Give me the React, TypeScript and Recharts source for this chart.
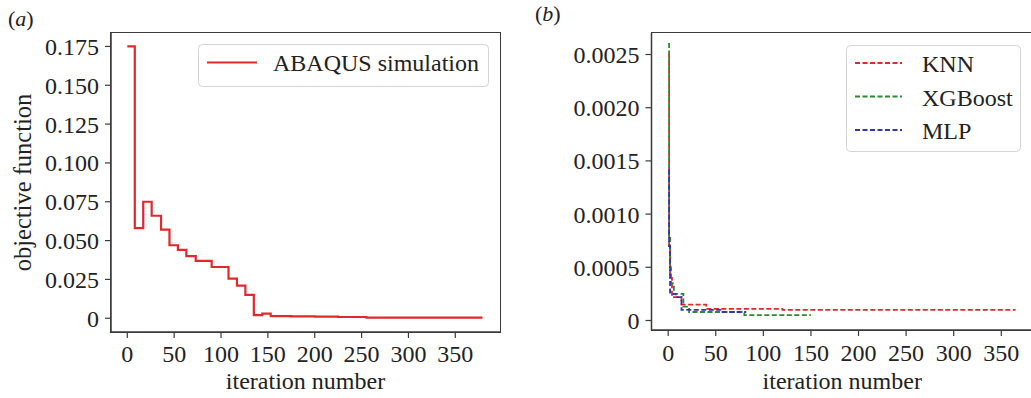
import React from 'react'
import { LineChart, Line, XAxis, YAxis } from 'recharts'

const FONT = '"Liberation Serif", "Times New Roman", serif'

// --- (a) ABAQUS simulation ---
const abaqusIter = [0, 8, 17, 26, 36, 45, 54, 63, 73, 90, 108, 117, 126, 135, 144, 153, 175, 200, 225, 255, 379]
const abaqusObj = [0.175, 0.058, 0.075, 0.066, 0.057, 0.047, 0.044, 0.04, 0.037, 0.033, 0.0255, 0.021, 0.015, 0.002, 0.003, 0.0013, 0.0012, 0.001, 0.0008, 0.0004, 0.0004]
const ticksA_X = [0, 50, 100, 150, 200, 250, 300, 350]
const ticksA_Y = [0, 0.025, 0.05, 0.075, 0.1, 0.125, 0.15, 0.175]

// --- (b) surrogate models ---
const knnIter = [0, 1, 2, 4, 14, 40, 120, 365]
const knnObj = [0.0025, 0.0007, 0.0004, 0.00022, 0.00015, 0.00011, 0.0001, 0.0001]
const xgbIter = [0, 1, 2, 3, 6, 16, 22, 80, 150]
const xgbObj = [0.0026, 0.0008, 0.0005, 0.00035, 0.00025, 0.00013, 0.00008, 0.00005, 0.00005]
const mlpIter = [0, 1, 2, 8, 14, 55, 82]
const mlpObj = [0.00141, 0.0007, 0.00025, 0.00022, 0.0001, 0.00008, 0.00008]
const ticksB_X = [0, 50, 100, 150, 200, 250, 300, 350]
const ticksB_Y = [0, 0.0005, 0.001, 0.0015, 0.002, 0.0025]

const RED = '#e3282b'
const GREEN = '#2b8a2f'
const BLUE = '#3434ad'
const SPINE = '#3a3a3a'

const domA_X: [number, number] = [-17.4, 397.7]
const domA_Y: [number, number] = [-0.00886, 0.18366]
const domB_X: [number, number] = [-17.5, 383.3]
const domB_Y: [number, number] = [-0.0000893, 0.002702]

// layout of the two panels (page px)
const H = 398
const A = { left: 0, width: 510, yAxisW: 111, top: 33, xAxisH: 66, right: 10 }
const B = { left: 520, width: 513, yAxisW: 131.5, top: 33, xAxisH: 68, right: 0 }

const zip = (xs: number[], ys: number[]) => xs.map((x, i) => ({ x, y: ys[i] }))

const tickStyle = { fill: '#222', fontSize: 24, fontFamily: FONT }
const spine = { stroke: SPINE, strokeWidth: 1.5 }
const tickLine = { stroke: SPINE, strokeWidth: 1.2 }

function PanelA() {
  const data = zip(abaqusIter, abaqusObj)
  return (
    <LineChart width={A.width} height={H} margin={{ top: A.top, right: A.right, left: 0, bottom: 0 }}>
      <XAxis type="number" dataKey="x" domain={domA_X} ticks={ticksA_X} interval={0}
        tick={tickStyle} tickLine={tickLine} axisLine={spine} tickSize={6} tickMargin={7} height={A.xAxisH}
        label={{ value: 'iteration number', position: 'insideBottom', offset: 9, fill: '#222', fontSize: 24, fontFamily: FONT }} />
      <YAxis type="number" domain={domA_Y} ticks={ticksA_Y} interval={0} width={A.yAxisW}
        tickFormatter={(v) => (v === 0 ? '0' : Number(v).toFixed(3))}
        tick={tickStyle} tickLine={tickLine} axisLine={spine} tickSize={6} tickMargin={6}
        label={{ value: 'objective function', angle: -90, position: 'insideLeft', offset: 22, fill: '#222', fontSize: 24.5, fontFamily: FONT, style: { textAnchor: 'middle' } }} />
      <Line data={data} dataKey="y" type="stepAfter" stroke={RED} strokeWidth={2.2} dot={false} isAnimationActive={false} />
    </LineChart>
  )
}

function PanelB() {
  return (
    <LineChart width={B.width} height={H} margin={{ top: B.top, right: B.right, left: 0, bottom: 0 }}>
      <XAxis type="number" dataKey="x" domain={domB_X} ticks={ticksB_X} interval={0} allowDuplicatedCategory={false}
        tick={tickStyle} tickLine={tickLine} axisLine={spine} tickSize={6} tickMargin={8} height={B.xAxisH}
        label={{ value: 'iteration number', position: 'insideBottom', offset: 9, fill: '#222', fontSize: 24, fontFamily: FONT }} />
      <YAxis type="number" domain={domB_Y} ticks={ticksB_Y} interval={0} width={B.yAxisW}
        tickFormatter={(v) => (v === 0 ? '0' : Number(v).toFixed(4))}
        tick={tickStyle} tickLine={tickLine} axisLine={spine} tickSize={6} tickMargin={6} />
      <Line data={zip(knnIter, knnObj)} dataKey="y" type="stepAfter" stroke={RED} strokeWidth={1.8} strokeDasharray="5 2.5" dot={false} isAnimationActive={false} />
      <Line data={zip(xgbIter, xgbObj)} dataKey="y" type="stepAfter" stroke={GREEN} strokeWidth={1.8} strokeDasharray="5 2.5" dot={false} isAnimationActive={false} />
      <Line data={zip(mlpIter, mlpObj)} dataKey="y" type="stepAfter" stroke={BLUE} strokeWidth={1.8} strokeDasharray="5 2.5" dot={false} isAnimationActive={false} />
    </LineChart>
  )
}

const legendB = [
  { name: 'KNN', color: RED },
  { name: 'XGBoost', color: GREEN },
  { name: 'MLP', color: BLUE },
]

// box around each plot area (matplotlib spines), from the same layout numbers
function Frame({ p }: { p: typeof A }) {
  const x0 = p.left + p.yAxisW
  const x1 = p.left + p.width - p.right
  const y0 = p.top
  const y1 = H - p.xAxisH
  return (
    <div style={{
      position: 'absolute', left: x0 - 0.75, top: y0 - 0.75, width: x1 - x0 + 1.5, height: y1 - y0 + 1.5,
      border: `1.5px solid ${SPINE}`, boxSizing: 'border-box', pointerEvents: 'none',
    }} />
  )
}

function Overlay() {
  const t = { fontFamily: FONT, fill: '#222' }
  return (
    <svg width={1031} height={H} style={{ position: 'absolute', left: 0, top: 0, pointerEvents: 'none' }}>
      <text x={8} y={26} fontSize={22} style={t}>(<tspan fontStyle="italic">a</tspan>)</text>
      <text x={535} y={21} fontSize={22} style={t}>(<tspan fontStyle="italic">b</tspan>)</text>

      <rect x={198.5} y={44.5} width={290} height={42} rx={4} fill="#fff" fillOpacity={0.8} stroke="#d4d4d4" />
      <line x1={207} x2={257} y1={62.5} y2={62.5} stroke={RED} strokeWidth={2} />
      <text x={273} y={71} fontSize={24} style={t}>ABAQUS simulation</text>

      <rect x={846.5} y={45.5} width={174} height={106} rx={4} fill="#fff" fillOpacity={0.8} stroke="#d4d4d4" />
      {legendB.map((d, i) => (
        <g key={d.name}>
          <line x1={855} x2={902} y1={63 + i * 33.5} y2={63 + i * 33.5} stroke={d.color} strokeWidth={1.8} strokeDasharray="5 2.5" />
          <text x={922} y={72 + i * 33.5} fontSize={24} style={t}>{d.name}</text>
        </g>
      ))}
    </svg>
  )
}

export default function App() {
  return (
    <div style={{ position: 'absolute', left: 0, top: 0, width: 1031, height: H, overflow: 'hidden', background: '#fff', fontFamily: FONT }}>
      <div style={{ position: 'absolute', left: A.left, top: 0 }}>
        <PanelA />
      </div>
      <div style={{ position: 'absolute', left: B.left, top: 0 }}>
        <PanelB />
      </div>
      <Frame p={A} />
      <Frame p={B} />
      <Overlay />
    </div>
  )
}
